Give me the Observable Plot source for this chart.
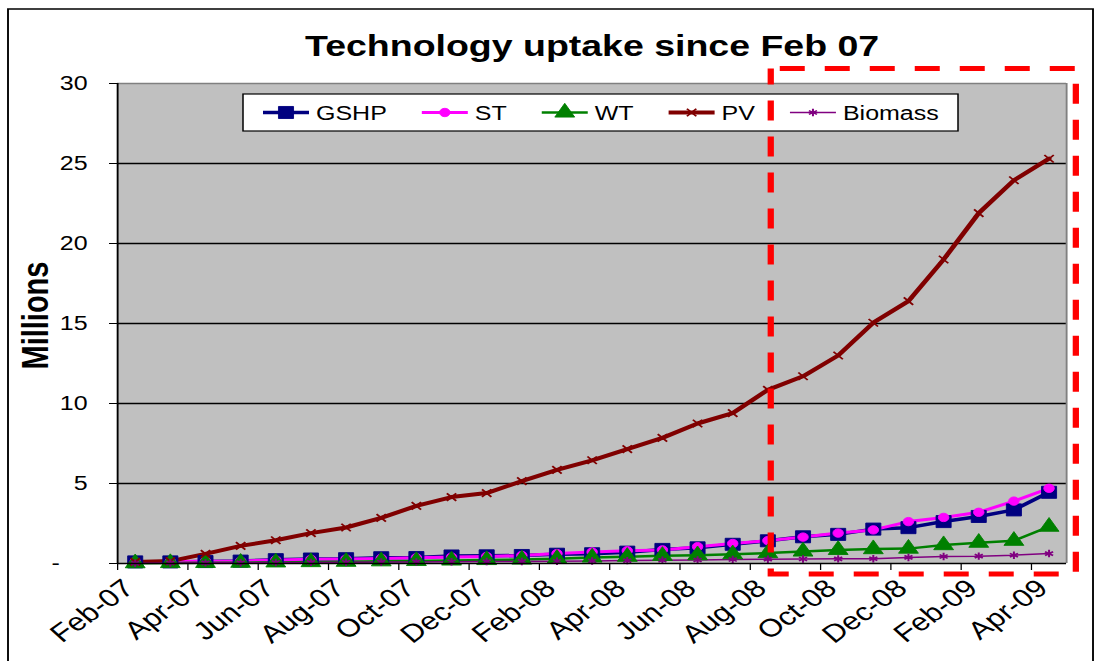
<!DOCTYPE html>
<html><head><meta charset="utf-8">
<script src="https://cdn.jsdelivr.net/npm/d3@7"></script>
<script src="https://cdn.jsdelivr.net/npm/@observablehq/plot@0.6"></script>
<style>body{margin:0;background:#fff;}</style>
</head><body><div id="chart"></div>
<script>
// ---- data ----
const months = ["Feb-07","Mar-07","Apr-07","May-07","Jun-07","Jul-07","Aug-07","Sep-07","Oct-07","Nov-07","Dec-07","Jan-08","Feb-08","Mar-08","Apr-08","May-08","Jun-08","Jul-08","Aug-08","Sep-08","Oct-08","Nov-08","Dec-08","Jan-09","Feb-09","Mar-09","Apr-09"];
const gshp = [0.1,0.1,0.12,0.15,0.24,0.28,0.3,0.36,0.37,0.47,0.48,0.5,0.58,0.61,0.71,0.88,0.98,1.2,1.42,1.67,1.82,2.15,2.24,2.62,2.94,3.35,4.45];
const st = [0.12,0.12,0.14,0.16,0.22,0.26,0.28,0.32,0.36,0.4,0.44,0.5,0.62,0.72,0.8,0.85,1.05,1.25,1.43,1.65,1.9,2.1,2.62,2.88,3.2,3.9,4.7];
const wt = [0.02,0.03,0.04,0.05,0.07,0.09,0.11,0.14,0.16,0.19,0.22,0.25,0.3,0.38,0.42,0.48,0.52,0.58,0.65,0.75,0.85,0.9,0.93,1.15,1.3,1.42,2.3];
const pv = [0.1,0.15,0.6,1.1,1.45,1.9,2.25,2.85,3.6,4.15,4.4,5.15,5.85,6.45,7.15,7.85,8.75,9.4,10.85,11.7,13.0,15.05,16.4,19.0,21.9,23.95,25.3];
const biomass = [0.02,0.03,0.04,0.05,0.06,0.07,0.08,0.09,0.1,0.11,0.12,0.13,0.14,0.16,0.18,0.2,0.22,0.25,0.27,0.28,0.29,0.3,0.38,0.44,0.46,0.52,0.62];
const seriesNames = ["GSHP","ST","WT","PV","Biomass"];
const seriesValues = [gshp, st, wt, pv, biomass];
const yTicks = [0,5,10,15,20,25,30];
const titleText = "Technology uptake since Feb 07";
const yLabel = "Millions";
// highlighted period (data units: month index, millions)
const highlightBox = [{x1: 18.1, x2: 26.78, y1: -0.69, y2: 30.9}];

// ---- styles ----
const styles = {
  GSHP:    {color: "#000080", width: 3.5, symbol: "square",   r: 6.8, filled: true},
  ST:      {color: "#FF00FF", width: 3,   symbol: "circle",   r: 4.2, filled: true},
  WT:      {color: "#008000", width: 2.5, symbol: "triangle", r: 5.9, filled: true},
  PV:      {color: "#800000", width: 4,   symbol: "times",    r: 3.5, filled: false},
  Biomass: {color: "#800080", width: 1.5, symbol: "asterisk", r: 3.5, filled: false}
};
const d3Symbols = {square: d3.symbolSquare, circle: d3.symbolCircle, triangle: d3.symbolTriangle, times: d3.symbolTimes, asterisk: d3.symbolAsterisk};

const W = 876, H = 661, OUT_W = 1095;
const rows = seriesNames.map((name, s) => seriesValues[s].map((v, i) => ({series: name, i, value: v, month: months[i]})));
const xTicks = months.map((m, i) => i - 0.5).filter((t, k) => k % 2 === 0);

const lineMarks = seriesNames.map((name, s) => Plot.line(rows[s], {x: "i", y: "value", stroke: styles[name].color, strokeWidth: styles[name].width, strokeLinejoin: "round"}));
const dotMarks = seriesNames.map((name, s) => {
  const st_ = styles[name];
  return st_.filled
    ? Plot.dot(rows[s], {x: "i", y: "value", symbol: st_.symbol, r: st_.r, fill: st_.color, stroke: st_.color, strokeWidth: 0.8})
    : Plot.dot(rows[s], {x: "i", y: "value", symbol: st_.symbol, r: st_.r, stroke: st_.color, strokeWidth: 1.6});
});

const plot = Plot.plot({
  width: W, height: H,
  marginLeft: 93.6, marginRight: 23.2, marginTop: 83, marginBottom: 98,
  style: {fontFamily: "Arial, 'Liberation Sans', sans-serif", fontSize: "20px", color: "black", background: "white", overflow: "visible"},
  x: {type: "linear", domain: [-0.5, 26.5], ticks: xTicks, tickFormat: d => months[Math.round(d + 0.5)], tickRotate: -42, tickSize: 7, tickPadding: 14, label: null},
  y: {domain: [0, 30], ticks: yTicks, tickSize: 6.4, tickPadding: 17.6, tickFormat: d => d === 0 ? "-\u00a0\u00a0\u00a0\u00a0" : String(d), label: null},
  marks: [
    Plot.frame({fill: "#C0C0C0", stroke: null}),
    Plot.ruleY(yTicks.filter(t => t > 0 && t < 30), {stroke: "black", strokeWidth: 1.3}),
    Plot.ruleY([30], {stroke: "#808080", strokeWidth: 1.5}),
    Plot.ruleX([26.5], {stroke: "#808080", strokeWidth: 1.5}),
    ...lineMarks,
    ...dotMarks,
    Plot.ruleY([0], {stroke: "black", strokeWidth: 1.5}),
    Plot.ruleX([-0.5], {stroke: "black", strokeWidth: 1.5}),
    Plot.text([titleText], {frameAnchor: "top", dy: -37, lineAnchor: "middle", fontSize: 30, fontWeight: "bold"}),
    Plot.text([yLabel], {frameAnchor: "left", dx: -64.8, dy: -8, rotate: -90, lineAnchor: "middle", textAnchor: "middle", fontSize: 29, fontWeight: "bold"}),
    Plot.rect(highlightBox, {x1: "x1", x2: "x2", y1: "y1", y2: "y2", fill: "none", stroke: "#FF0000", strokeWidth: 5, strokeDasharray: "20,16", strokeDashoffset: 28.8})
  ]
});

document.getElementById("chart").appendChild(plot);
const svg = d3.select(plot);
svg.attr("width", OUT_W).attr("height", H).attr("preserveAspectRatio", "none")
   .style("width", OUT_W + "px").style("height", H + "px").style("max-width", "none");

// larger rotated month labels, nudged right as in the reference
svg.selectAll('g[aria-label="x-axis tick label"]').each(function() {
  const g = d3.select(this);
  const tr = g.attr("transform") || "";
  g.attr("font-size", 25).attr("transform", tr + " translate(9,0)");
});

// outer chart border
svg.append("rect").attr("x", 6.4).attr("y", 9).attr("width", 868).attr("height", 680)
   .attr("fill", "none").attr("stroke", "black").attr("stroke-width", 1.5);

// legend (inside plot area)
const lg = svg.append("g").attr("font-size", 20).attr("text-anchor", "start");
lg.append("rect").attr("x", 194.4).attr("y", 94).attr("width", 572).attr("height", 37)
  .attr("fill", "white").attr("stroke", "black").attr("stroke-width", 1.2);
let lx = 210.4;
const ly = 112.5;
seriesNames.forEach(name => {
  const s = styles[name];
  lg.append("line").attr("x1", lx).attr("x2", lx + 36.8).attr("y1", ly).attr("y2", ly)
    .attr("stroke", s.color).attr("stroke-width", s.width);
  lg.append("path").attr("transform", `translate(${lx + 18.4},${ly})`)
    .attr("d", d3.symbol(d3Symbols[s.symbol], Math.PI * s.r * s.r)())
    .attr("fill", s.filled ? s.color : "none").attr("stroke", s.color).attr("stroke-width", s.filled ? 0.8 : 1.6);
  const t = lg.append("text").attr("x", lx + 42.4).attr("y", ly + 7.2).attr("text-anchor", "start").attr("fill", "black").text(name);
  const w = t.node().getComputedTextLength();
  lx += 42.4 + w + 28;
});
// highlight box on top
svg.selectAll('g[aria-label="rect"]').raise();
</script>
</body></html>
